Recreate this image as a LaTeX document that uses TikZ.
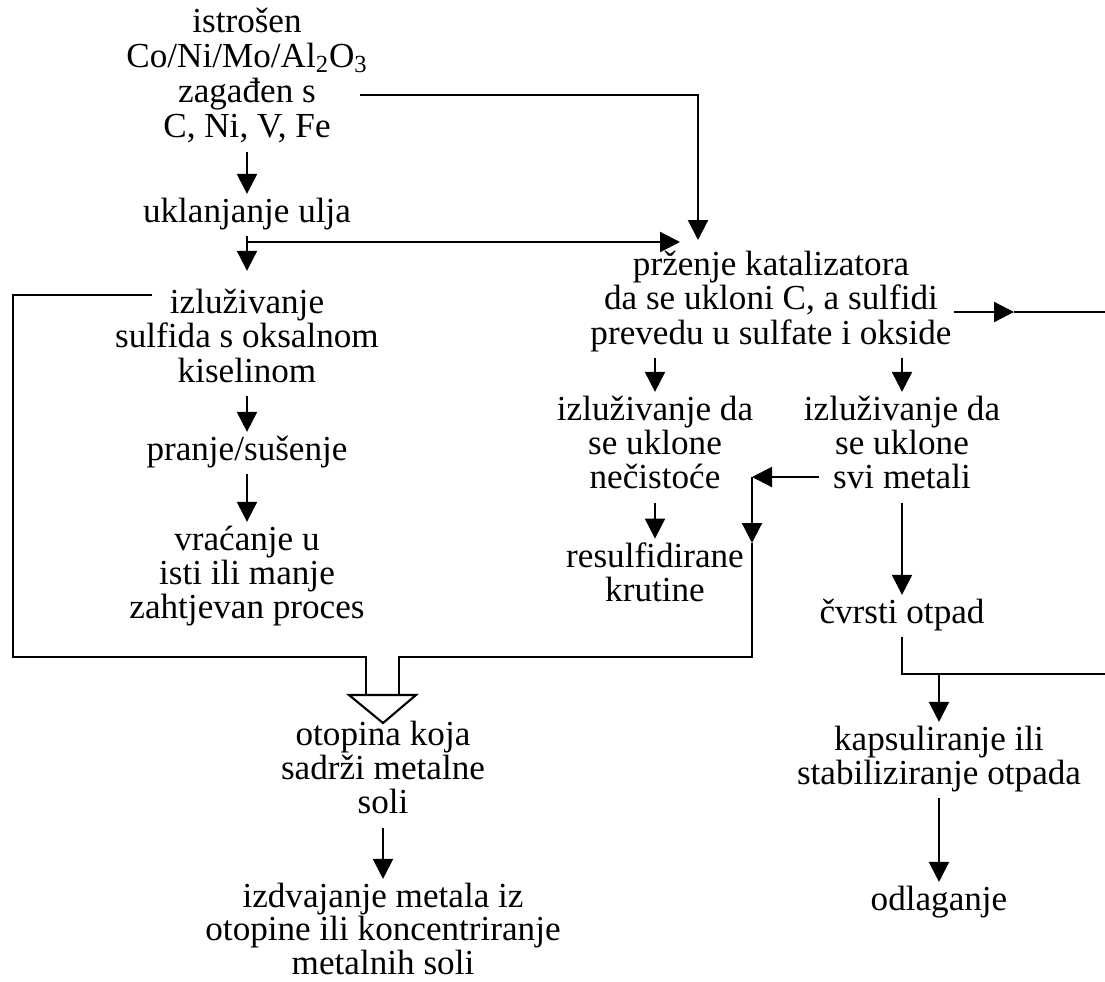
\documentclass[tikz,border=0pt]{standalone}
\usepackage{fontspec}
\setmainfont{Liberation Serif}
\usepackage{tikz}
\usetikzlibrary{arrows.meta}
\newcommand{\stack}[1]{\begin{tabular}[t]{@{}c@{}}#1\end{tabular}}
\tikzset{proc/.style={anchor=base,inner sep=1.5pt,font=\fontsize{20}{19}\selectfont}}
\begin{document}
\begin{tikzpicture}[x=0.02cm,y=-0.02cm,line width=1.2pt,>={Triangle[length=0.4cm,width=0.4cm]}]
    \useasboundingbox (0,0) rectangle (1105,981);
    \node[proc,font=\fontsize{20}{20}\selectfont] (src) at (247,32) {\stack{istrošen\\Co/Ni/Mo/Al\textsubscript{2}O\textsubscript{3}\\zagađen s\\C, Ni, V, Fe}};
    \node[proc] (oil) at (247,222) {\stack{uklanjanje ulja}};
    \node[proc] (oxal) at (247,313) {\stack{izluživanje\\sulfida s oksalnom\\kiselinom}};
    \node[proc] (wash) at (247,460) {\stack{pranje/sušenje}};
    \node[proc] (reuse) at (247,550) {\stack{vraćanje u\\isti ili manje\\zahtjevan proces}};
    \node[proc] (roast) at (771,275) {\stack{prženje katalizatora\\da se ukloni C, a sulfidi\\prevedu u sulfate i okside}};
    \node[proc] (leachimp) at (655,420) {\stack{izluživanje da\\se uklone\\nečistoće}};
    \node[proc] (leachall) at (902,420) {\stack{izluživanje da\\se uklone\\svi metali}};
    \node[proc] (resulf) at (655,567) {\stack{resulfidirane\\krutine}};
    \node[proc] (solid) at (902,623) {\stack{čvrsti otpad}};
    \node[proc] (caps) at (939,750) {\stack{kapsuliranje ili\\stabiliziranje otpada}};
    \node[proc] (landfill) at (939,910) {\stack{odlaganje}};
    \node[proc] (salts) at (383,745) {\stack{otopina koja\\sadrži metalne\\soli}};
    \node[proc,font=\fontsize{20}{18}\selectfont] (recover) at (383,907) {\stack{izdvajanje metala iz\\otopine ili koncentriranje\\metalnih soli}};
    \coordinate (srcout) at (360,95);
    \coordinate (roastin) at (698,240);
    \coordinate (oilj) at (247,242);
    \coordinate (roastleft) at (680,242);
    \coordinate (roastout) at (954,312);
    \coordinate (roastmid) at (1014,312);
    \coordinate (roastend) at (1105,312);
    \coordinate (oxalout) at (152,295);
    \coordinate (allout) at (819,477);
    \coordinate (impin) at (752,477);
    \coordinate (loopdown) at (752,543);
    \coordinate (funl) at (366,695);
    \coordinate (funr) at (399,695);
    \coordinate (solidj) at (939,674);
    \coordinate (solidend) at (1105,674);
    \draw[->] (srcout) -| (roastin);
    \draw[->] (src.south) -- (oil.north);
    \draw[->,shorten >=8pt] (oil.south) -- (oxal.north);
    \draw[->] (oilj) -- (roastleft);
    \draw[->] (oxal.south) -- (wash.north);
    \draw[->] (wash.south) -- (reuse.north);
    \draw[->] (roast.south -| leachimp) -- (leachimp.north);
    \draw[->] (roast.south -| leachall) -- (leachall.north);
    \draw[->] (roastout) -- (roastmid);
    \draw (roastmid) -- (roastend);
    \draw[->] (leachimp.south) -- (resulf.north);
    \draw[->] (leachall.south) -- (solid.north);
    \draw (oxalout) -| (13,657) -| (funl);
    \draw[->] (allout) -- (impin);
    \draw[->] (impin) -- (loopdown);
    \draw (loopdown) -- (752,657) -| (funr);
    \draw (349,695) -- (416,695) -- (383,723) -- cycle;
    \draw[->] (salts.south) -- (recover.north);
    \draw (solid.south) |- (solidend);
    \draw[->] (solidj) -- (caps.north);
    \draw[->] (caps.south) -- (landfill.north);
  \end{tikzpicture}
\end{document}
